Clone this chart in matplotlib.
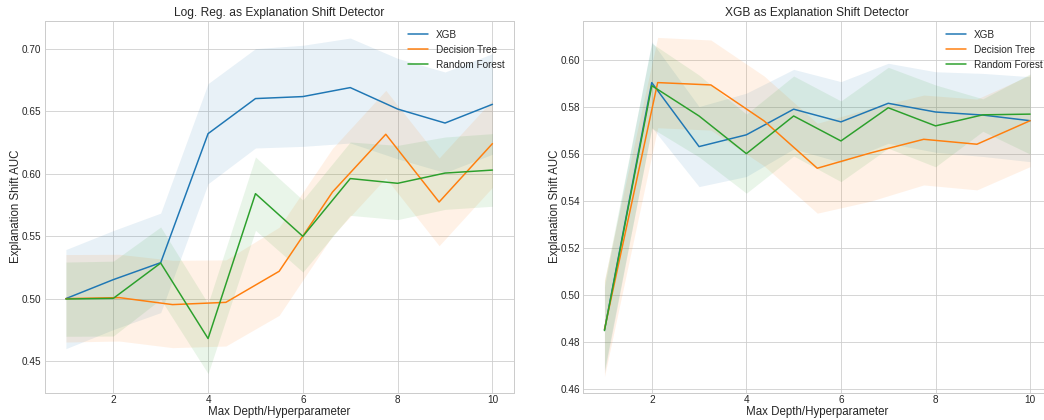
import matplotlib
matplotlib.use("Agg")
import matplotlib.pyplot as plt
import numpy as np

plt.style.use("seaborn-v0_8-whitegrid")
plt.rcParams["font.family"] = ["Liberation Sans", "DejaVu Sans"]

# ---------------- data ----------------
x_int = [1, 2, 3, 4, 5, 6, 7, 8, 9, 10]
x_dt = [1, 2.125, 3.25, 4.375, 5.5, 6.625, 7.75, 8.875, 10]

# Left: Log. Reg. as detector
lr_xgb = [0.5000, 0.5152, 0.5288, 0.6322, 0.6603, 0.6619, 0.6691, 0.6519, 0.6407, 0.6557]
lr_xgb_lo = [0.4599, 0.4752, 0.4888, 0.5921, 0.6207, 0.6220, 0.6247, 0.6120, 0.6010, 0.6157]
lr_xgb_hi = [0.5393, 0.5545, 0.5685, 0.6723, 0.7003, 0.7030, 0.7088, 0.6925, 0.6816, 0.6963]

lr_dt = [0.5000, 0.5008, 0.4952, 0.4970, 0.5219, 0.5854, 0.6317, 0.5774, 0.6242]
lr_dt_lo = [0.4652, 0.4660, 0.4607, 0.4620, 0.4866, 0.5504, 0.5967, 0.5424, 0.5892]
lr_dt_hi = [0.5353, 0.5355, 0.5307, 0.5310, 0.5572, 0.6204, 0.6669, 0.6127, 0.6592]

lr_rf = [0.4997, 0.5002, 0.5285, 0.4680, 0.5841, 0.5499, 0.5962, 0.5924, 0.6006, 0.6030]
lr_rf_lo = [0.4698, 0.4700, 0.4995, 0.4399, 0.5547, 0.5213, 0.5667, 0.5633, 0.5715, 0.5740]
lr_rf_hi = [0.5293, 0.5300, 0.5574, 0.4960, 0.6135, 0.5790, 0.6255, 0.6228, 0.6295, 0.6322]

# Right: XGB as detector
xg_xgb = [0.4852, 0.5904, 0.5632, 0.5682, 0.5791, 0.5737, 0.5816, 0.5779, 0.5766, 0.5742]
xg_xgb_lo = [0.4670, 0.5714, 0.5462, 0.5505, 0.5622, 0.5565, 0.5646, 0.5608, 0.5590, 0.5568]
xg_xgb_hi = [0.5035, 0.6078, 0.5802, 0.5859, 0.5960, 0.5908, 0.5986, 0.5950, 0.5943, 0.5929]

xg_dt = [0.4855, 0.5904, 0.5894, 0.5741, 0.5540, 0.5605, 0.5663, 0.5642, 0.5742]
xg_dt_lo = [0.4655, 0.5712, 0.5702, 0.5550, 0.5349, 0.5400, 0.5469, 0.5448, 0.5547]
xg_dt_hi = [0.5065, 0.6096, 0.6085, 0.5932, 0.5731, 0.5795, 0.5851, 0.5834, 0.5936]

xg_rf = [0.4850, 0.5891, 0.5762, 0.5602, 0.5762, 0.5656, 0.5797, 0.5720, 0.5767, 0.5770]
xg_rf_lo = [0.4683, 0.5710, 0.5588, 0.5434, 0.5592, 0.5483, 0.5625, 0.5546, 0.5697, 0.5600]
xg_rf_hi = [0.5058, 0.6071, 0.5936, 0.5770, 0.5932, 0.5826, 0.5969, 0.5894, 0.5835, 0.5941]

labels = ["XGB", "Decision Tree", "Random Forest"]
colors = ["#1f77b4", "#ff7f0e", "#2ca02c"]
titles = ["Log. Reg. as Explanation Shift Detector", "XGB as Explanation Shift Detector"]

panels = [
    [(x_int, lr_xgb, lr_xgb_lo, lr_xgb_hi), (x_dt, lr_dt, lr_dt_lo, lr_dt_hi), (x_int, lr_rf, lr_rf_lo, lr_rf_hi)],
    [(x_int, xg_xgb, xg_xgb_lo, xg_xgb_hi), (x_dt, xg_dt, xg_dt_lo, xg_dt_hi), (x_int, xg_rf, xg_rf_lo, xg_rf_hi)],
]
ylims = [(0.4246, 0.7227), (0.4586, 0.6167)]

fig = plt.figure(figsize=(1044 / 72, 420 / 72), dpi=72)
ax_l = fig.add_axes([0.0427, 0.065, 0.4494, 0.8857])
ax_r = fig.add_axes([0.5586, 0.065, 0.4485, 0.8857])

for ax, series, title, yl in zip([ax_l, ax_r], panels, titles, ylims):
    for (xs, m, lo, hi), lab, c in zip(series, labels, colors):
        ax.plot(xs, m, color=c, lw=1.5, label=lab)
        ax.fill_between(xs, lo, hi, color=c, alpha=0.1, lw=0)
    ax.set_xlim(0.55, 10.45)
    ax.set_ylim(*yl)
    ax.set_title(title, fontsize=12, pad=5)
    ax.set_xlabel("Max Depth/Hyperparameter", fontsize=11.5, labelpad=1)
    ax.set_ylabel("Explanation Shift AUC", fontsize=11.5, labelpad=0)
    ax.tick_params(axis="x", labelsize=10, pad=2.5)
    ax.tick_params(axis="y", labelsize=10, pad=3)
    ax.legend(loc="upper right", fontsize=10)

fig.savefig("out.png", dpi=72)
